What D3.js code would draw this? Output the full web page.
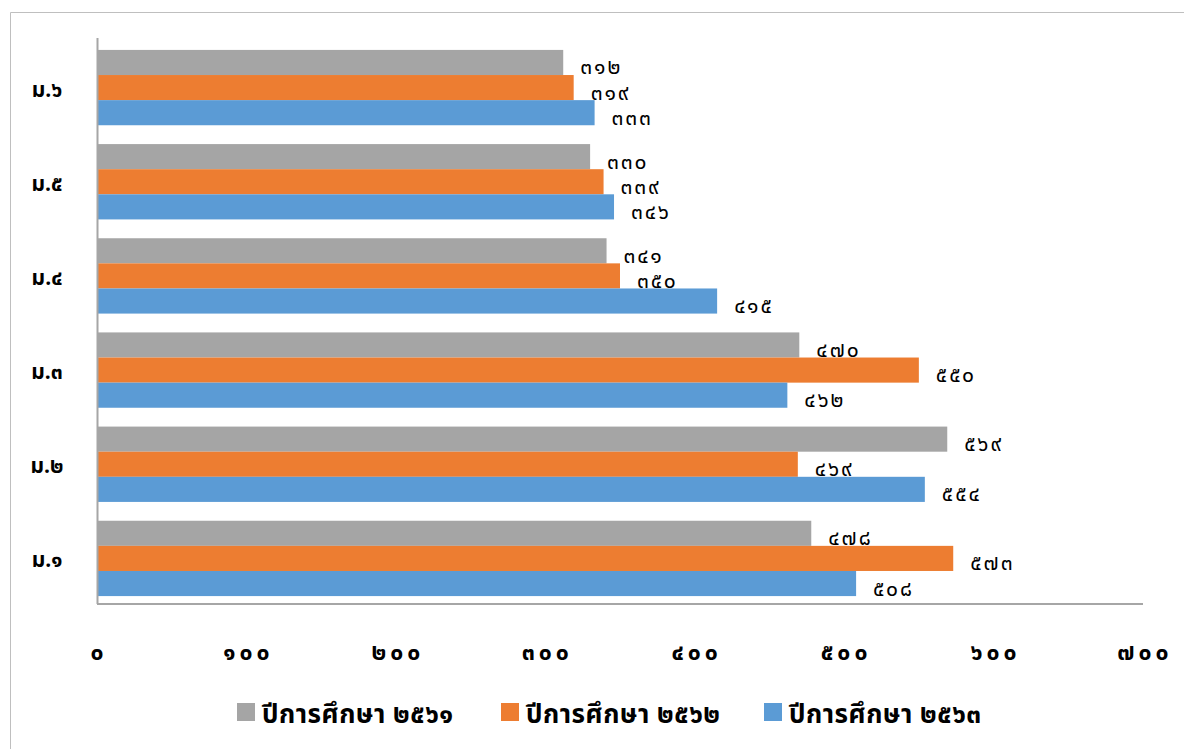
<!DOCTYPE html>
<html>
<head>
<meta charset="utf-8">
<script src="https://cdn.jsdelivr.net/npm/d3@7"></script>
<style>
  body { margin: 0; background: #fff; }
  svg { font-family: "Noto Sans Thai", "Leelawadee UI", Tahoma, "Noto Sans", sans-serif; }
</style>
</head>
<body>
<svg id="chart"></svg>
<script>
const categories = ["ม.๑", "ม.๒", "ม.๓", "ม.๔", "ม.๕", "ม.๖"];
const seriesNames = ["ปีการศึกษา ๒๕๖๑", "ปีการศึกษา ๒๕๖๒", "ปีการศึกษา ๒๕๖๓"];
const values2561 = [478, 569, 470, 341, 330, 312];
const values2562 = [573, 469, 550, 350, 339, 319];
const values2563 = [508, 554, 462, 415, 346, 333];
const tickValues = [0, 100, 200, 300, 400, 500, 600, 700];
const colors = ["#A5A5A5", "#ED7D31", "#5B9BD5"];

const allSeries = [values2561, values2562, values2563];

const width = 1184;
const height = 749;

const thaiDigits = "๐๑๒๓๔๕๖๗๘๙";
const toThai = n => String(n).replace(/[0-9]/g, d => thaiDigits[+d]);

const svg = d3.select("#chart")
  .attr("width", width)
  .attr("height", height);

// outer chart border (partly clipped, like the original)
svg.append("path")
  .attr("d", `M10.5,${height} V12.5 H${width}`)
  .attr("fill", "none")
  .attr("stroke", "#BFBFBF")
  .attr("stroke-width", 1);

const margin = { left: 97, right: 41, top: 38, bottom: 145 };
const plotW = width - margin.left - margin.right;
const plotH = height - margin.top - margin.bottom;

const g = svg.append("g")
  .attr("transform", `translate(${margin.left},${margin.top})`);

const x = d3.scaleLinear().domain([0, 700]).range([0, plotW]);

// ม.๖ at top
const y = d3.scaleBand()
  .domain(categories.slice().reverse())
  .range([2.5, 567.5])
  .paddingInner(0.2)
  .paddingOuter(0.1);

const y1 = d3.scaleBand()
  .domain([0, 1, 2])
  .range([0, y.bandwidth()]);

const rows = categories.map((c, i) => ({
  cat: c,
  vals: allSeries.map((s, k) => ({ k, v: s[i] }))
}));

const groups = g.selectAll(".grp")
  .data(rows)
  .enter()
  .append("g")
  .attr("transform", d => `translate(0,${y(d.cat)})`);

groups.selectAll("rect")
  .data(d => d.vals)
  .enter()
  .append("rect")
  .attr("x", 0)
  .attr("y", d => y1(d.k))
  .attr("width", d => x(d.v))
  .attr("height", y1.bandwidth())
  .attr("fill", d => colors[d.k]);

groups.selectAll("text.lbl")
  .data(d => d.vals)
  .enter()
  .append("text")
  .attr("class", "lbl")
  .attr("x", d => x(d.v) + 17)
  .attr("y", d => y1(d.k) + y1.bandwidth() / 2 + 12)
  .attr("font-size", 21)
  .attr("letter-spacing", 2)
  .attr("fill", "#000")
  .text(d => toThai(d.v));

// axes lines
g.append("line")
  .attr("x1", 0.5).attr("x2", 0.5)
  .attr("y1", 0).attr("y2", plotH)
  .attr("stroke", "#A6A6A6").attr("stroke-width", 2);

g.append("line")
  .attr("x1", 0).attr("x2", plotW)
  .attr("y1", plotH).attr("y2", plotH)
  .attr("stroke", "#A6A6A6").attr("stroke-width", 2);

// x tick labels
g.selectAll(".xt")
  .data(tickValues)
  .enter()
  .append("text")
  .attr("x", d => x(d) + 2)
  .attr("y", plotH + 56)
  .attr("text-anchor", "middle")
  .attr("font-size", 23)
  .attr("letter-spacing", 4)
  .attr("font-weight", "bold")
  .text(d => toThai(d));

// category labels
g.selectAll(".yt")
  .data(categories)
  .enter()
  .append("text")
  .attr("x", -50)
  .attr("y", d => y(d) + y.bandwidth() / 2 + 9)
  .attr("text-anchor", "middle")
  .attr("font-size", 21)
  .attr("font-weight", "bold")
  .text(d => d);

// legend
const legendX = [237, 501, 764];
const legend = svg.selectAll(".leg")
  .data(seriesNames)
  .enter()
  .append("g")
  .attr("transform", (d, i) => `translate(${legendX[i]},703)`);

legend.append("rect")
  .attr("width", 18).attr("height", 18)
  .attr("fill", (d, i) => colors[i]);

legend.append("text")
  .attr("x", 25)
  .attr("y", 20)
  .attr("font-size", 26)
  .attr("letter-spacing", 0.5)
  .attr("font-weight", "bold")
  .text(d => d);
</script>
</body>
</html>
